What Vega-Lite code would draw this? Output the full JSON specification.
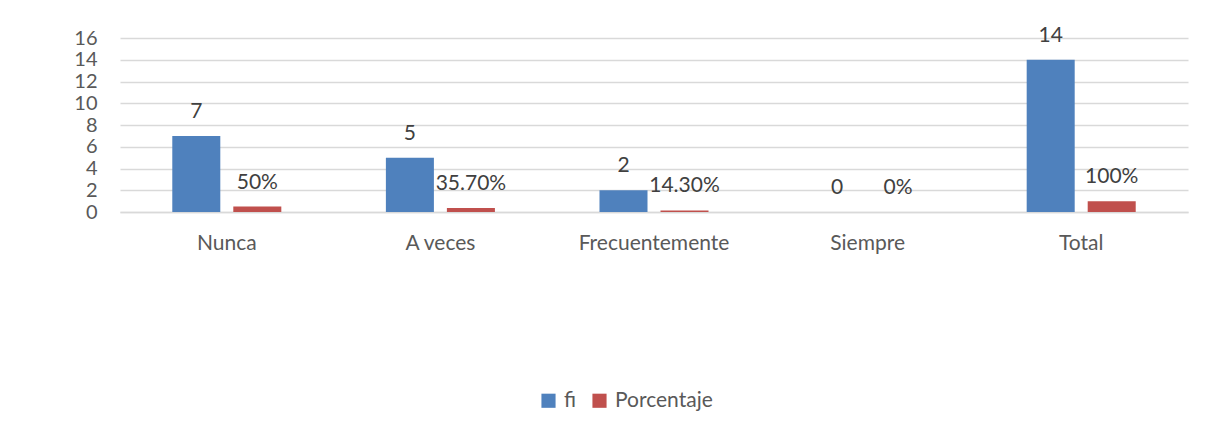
{
  "$schema": "https://vega.github.io/schema/vega-lite/v6.json",
  "width": 1068,
  "height": 174,
  "autosize": {"type": "none"},
  "padding": {"left": 120, "top": 38, "right": 34, "bottom": 218},
  "background": "white",
  "config": {
    "font": "Lato",
    "view": {"stroke": null},
    "text": {"font": "Lato"}
  },
  "data": {
    "values": [
      {"cat": "Nunca", "serie": "fi", "valor": 7, "label": "7"},
      {"cat": "Nunca", "serie": "Porcentaje", "valor": 0.5, "label": "50%"},
      {"cat": "A veces", "serie": "fi", "valor": 5, "label": "5"},
      {"cat": "A veces", "serie": "Porcentaje", "valor": 0.357, "label": "35.70%"},
      {"cat": "Frecuentemente", "serie": "fi", "valor": 2, "label": "2"},
      {"cat": "Frecuentemente", "serie": "Porcentaje", "valor": 0.143, "label": "14.30%"},
      {"cat": "Siempre", "serie": "fi", "valor": 0, "label": "0"},
      {"cat": "Siempre", "serie": "Porcentaje", "valor": 0, "label": "0%"},
      {"cat": "Total", "serie": "fi", "valor": 14, "label": "14"},
      {"cat": "Total", "serie": "Porcentaje", "valor": 1, "label": "100%"}
    ]
  },
  "encoding": {
    "x": {
      "field": "cat",
      "type": "nominal",
      "sort": ["Nunca", "A veces", "Frecuentemente", "Siempre", "Total"],
      "scale": {"paddingInner": 0, "paddingOuter": 0},
      "axis": {
        "title": null,
        "labelAngle": 0,
        "labelFontSize": 21,
        "labelColor": "#595959",
        "labelPadding": 20,
        "ticks": false,
        "domainColor": "#D9D9D9",
        "domainWidth": 1.5
      }
    },
    "xOffset": {
      "field": "serie",
      "type": "nominal",
      "sort": ["fi", "Porcentaje"],
      "scale": {"paddingInner": 0.213, "paddingOuter": 0.857}
    },
    "y": {
      "field": "valor",
      "type": "quantitative",
      "scale": {"domain": [0, 16], "nice": false},
      "axis": {
        "title": null,
        "values": [0, 2, 4, 6, 8, 10, 12, 14, 16],
        "labelFontSize": 20,
        "labelColor": "#595959",
        "labelPadding": 23,
        "labelOverlap": false,
        "ticks": false,
        "domain": false,
        "gridColor": "#D9D9D9",
        "gridWidth": 1.5
      }
    }
  },
  "layer": [
    {
      "mark": {"type": "bar"},
      "encoding": {
        "color": {
          "field": "serie",
          "type": "nominal",
          "sort": ["fi", "Porcentaje"],
          "scale": {"domain": ["fi", "Porcentaje"], "range": ["#4F81BD", "#C0504D"]},
          "legend": {
            "title": null,
            "orient": "none",
            "direction": "horizontal",
            "legendX": 418,
            "legendY": 352,
            "symbolType": "square",
            "symbolSize": 200,
            "symbolStrokeWidth": 0,
            "labelFontSize": 21,
            "labelColor": "#595959",
            "columnPadding": 12,
            "labelOffset": 5
          }
        }
      }
    },
    {
      "mark": {"type": "text", "baseline": "middle", "dy": -24, "fontSize": 21, "color": "#404040"},
      "encoding": {
        "text": {"field": "label"}
      }
    }
  ]
}
